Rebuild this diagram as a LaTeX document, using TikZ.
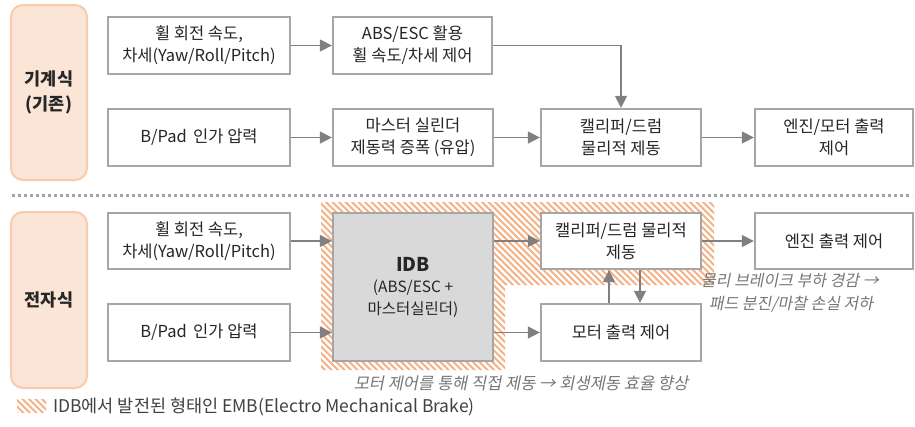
\documentclass[tikz,border=0pt]{standalone}
\usepackage{fontspec}
\setmainfont{Noto Sans CJK KR}
\newfontfamily\annfont[FakeSlant=0.2]{Noto Sans CJK KR}
\usetikzlibrary{arrows.meta}
\definecolor{boxline}{HTML}{A6A6A6}
\definecolor{arrowc}{HTML}{808080}
\definecolor{txt}{HTML}{262626}
\definecolor{labfill}{HTML}{FBE5D6}
\definecolor{labline}{HTML}{F8CBAD}
\definecolor{hatchc}{HTML}{F4B183}
\definecolor{idbfill}{HTML}{D9D9D9}
\definecolor{anntxt}{HTML}{767676}
\definecolor{legtxt}{HTML}{404040}
\tikzset{
  box/.style={draw=boxline, line width=2.3pt, fill=white, align=center, text=txt,
    font=\fontsize{16.5}{22}\selectfont, inner sep=2pt},
  labbox/.style={draw=labline, line width=2pt, fill=labfill, rounded corners=12pt,
    align=center, text=txt, font=\fontsize{17.5}{25}\selectfont\bfseries,
    minimum width=76pt},
  arr/.style={draw=arrowc, line width=1.5pt, -{Triangle[length=12pt,width=12pt]}},
  ann/.style={text=anntxt, font=\fontsize{16}{22}\selectfont\annfont, inner sep=0pt},
  stripe/.style={draw=hatchc, line width=1.8pt}
}
\begin{document}
\begin{tikzpicture}[x=1pt,y=-1pt]
\useasboundingbox (0,0) rectangle (915,426);
% hatch region (EMB)
\begin{scope}
  \clip (321,202) -- (714,202) -- (714,285) -- (505,285) -- (505,370) -- (321,370) -- cycle;
  \foreach \x in {140,146.5,...,720} \draw[stripe] (\x,198) -- ++(176,176);
\end{scope}
% separator
\draw[boxline, line width=3pt, dash pattern=on 3pt off 3pt] (12,195) -- (912,195);
% top section
\node[labbox, minimum height=175pt] (l1) at (49,92.5) {기계식\\(기존)};
\node[box, minimum width=182pt, minimum height=57pt] (a1) at (199,45.5) {휠 회전 속도,\\차세(Yaw/Roll/Pitch)};
\node[box, minimum width=159pt, minimum height=57pt] (a2) at (412.5,45.5) {ABS/ESC 활용\\휠 속도/차세 제어};
\node[box, minimum width=182pt, minimum height=57pt] (a3) at (199,137.5) {B/Pad\, 인가 압력};
\node[box, minimum width=160pt, minimum height=57pt] (a4) at (413,137.5) {마스터 실린더\\제동력 증폭 (유압)};
\node[box, minimum width=160pt, minimum height=57pt] (a5) at (621,137.5) {캘리퍼/드럼\\물리적 제동};
\node[box, minimum width=158pt, minimum height=57pt] (a6) at (834,137.5) {엔진/모터 출력\\제어};
\draw[arr] (a1) -- (a2);
\draw[arr] (a3) -- (a4);
\draw[arr] (a4) -- (a5);
\draw[arr] (a5) -- (a6);
\draw[arr] (a2.east) -| (a5.north);
% bottom section
\node[labbox, minimum height=176pt] (l2) at (49,300) {전자식};
\node[box, minimum width=182pt, minimum height=56pt] (b1) at (199,241) {휠 회전 속도,\\차세(Yaw/Roll/Pitch)};
\node[box, minimum width=182pt, minimum height=57pt] (b2) at (199,332.5) {B/Pad\, 인가 압력};
\node[box, fill=idbfill, minimum width=160pt, minimum height=148pt] (idb) at (413,287)
  {{\fontsize{19}{24}\selectfont\bfseries IDB}\\[-1pt]{\fontsize{15.5}{23}\selectfont (ABS/ESC +}\\{\fontsize{15.5}{23}\selectfont 마스터실린더)}};
\node[box, minimum width=160pt, minimum height=56pt] (b3) at (621,241) {캘리퍼/드럼 물리적\\제동};
\node[box, minimum width=158pt, minimum height=56pt] (b4) at (834,241) {엔진 출력 제어};
\node[box, minimum width=160pt, minimum height=57pt] (b5) at (621,332.5) {모터 출력 제어};
\draw[arr] (b1.east) -- (b1.east -| idb.west);
\draw[arr] (b2.east) -- (b2.east -| idb.west);
\draw[arr] (b3.west -| idb.east) -- (b3.west);
\draw[arr] (b5.west -| idb.east) -- (b5.west);
\draw[arr] (b3) -- (b4);
\draw[arr] ([xshift=-12pt]b5.north) -- ([xshift=-12pt]b3.south);
\draw[arr] ([xshift=19pt]b3.south) -- ([xshift=19pt]b5.north);
% annotations
\node[ann] (n1) at (790,281) {물리 브레이크 부하 경감 →};
\node[ann] (n2) at (791,304) {패드 분진/마찰 손실 저하};
\node[ann, font=\fontsize{16.5}{22}\selectfont\annfont] (n3) at (521,383) {모터 제어를 통해 직접 제동 → 회생제동 효율 향상};
% legend
\begin{scope}
  \clip (17,399) rectangle (46,412);
  \foreach \x in {0,6.5,...,50} \draw[stripe] (\x,396) -- ++(20,20);
\end{scope}
\node[anchor=west, text=legtxt, font=\fontsize{17.5}{20}\selectfont, inner sep=0pt] (leg) at (53,407) {IDB에서 발전된 형태인 EMB(Electro Mechanical Brake)};
\end{tikzpicture}
\end{document}
